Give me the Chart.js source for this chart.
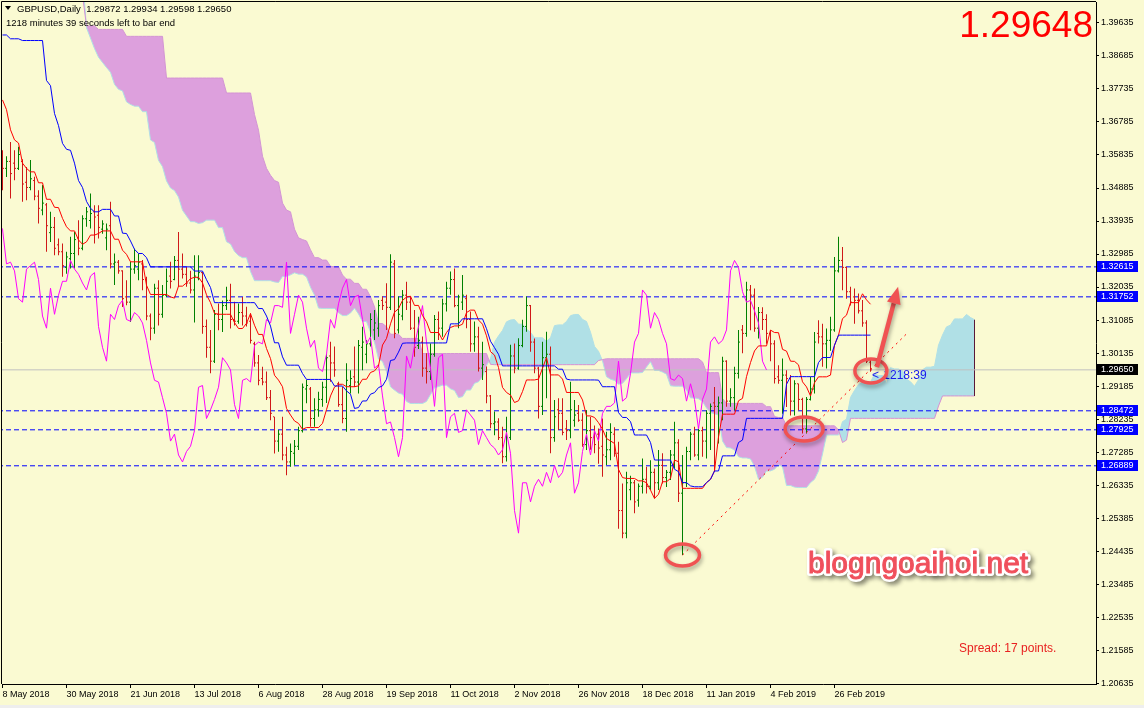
<!DOCTYPE html>
<html>
<head>
<meta charset="utf-8">
<script src="https://cdn.jsdelivr.net/npm/chart.js@4.4.1/dist/chart.umd.min.js"></script>
<style>
  html, body { margin: 0; padding: 0; background: #FAFAD2; }
  canvas { display: block; }
</style>
</head>
<body>
<canvas id="chart" width="1144" height="708"></canvas>
<script>
// GBPUSD daily bars, 8 May 2018 .. 11 Mar 2019 (index 0 = 8 May 2018)
const opens = [
  1.3565,1.3545,1.3565,1.3560,1.3545,1.3565,1.3505,1.3490,1.3510,1.3465,
  1.3425,1.3440,1.3360,1.3375,1.3325,1.3305,1.3260,1.3285,1.3300,1.3345,
  1.3315,1.3400,1.3395,1.3420,1.3410,1.3370,1.3345,1.3380,1.3270,1.3275,
  1.3250,1.3175,1.3160,1.3255,1.3255,1.3270,1.3225,1.3120,1.3085,1.3200,
  1.3125,1.3180,1.3235,1.3225,1.3280,1.3255,1.3240,1.3215,1.3195,1.3230,
  1.3245,1.3090,1.3030,1.2990,1.3125,1.3110,1.3150,1.3165,1.3110,1.3105,
  1.3130,1.3120,1.3105,1.3040,1.2985,1.2940,1.2930,1.2885,1.2830,1.2760,
  1.2780,1.2720,1.2700,1.2725,1.2745,1.2790,1.2910,1.2910,1.2825,1.2850,
  1.2880,1.2915,1.3005,1.2985,1.2925,1.2865,1.2825,1.2920,1.2945,1.2930,
  1.3030,1.3010,1.3040,1.3080,1.3085,1.3165,1.3160,1.3145,1.3270,1.3080,
  1.3120,1.3180,1.3160,1.3085,1.3035,1.3045,1.2970,1.2960,1.3010,1.3110,
  1.3085,1.3155,1.3200,1.3225,1.3150,1.3160,1.3170,1.3110,1.3040,1.3060,
  1.2970,1.2960,1.2890,1.2810,1.2815,1.2770,1.2715,1.2770,1.3005,1.2970,
  1.3035,1.3090,1.3150,1.3045,1.2970,1.2860,1.3000,1.3010,1.2770,1.2850,
  1.2840,1.2795,1.2790,1.2820,1.2840,1.2820,1.2750,1.2790,1.2770,1.2780,
  1.2745,1.2715,1.2735,1.2780,1.2725,1.2560,1.2495,1.2620,1.2640,1.2590,
  1.2630,1.2650,1.2630,1.2670,1.2640,1.2690,1.2655,1.2670,1.2720,1.2755,
  1.2610,1.2640,1.2730,1.2780,1.2720,1.2790,1.2760,1.2840,1.2870,1.2860,
  1.2870,1.2990,1.2875,1.2885,1.2955,1.3080,1.3070,1.3195,1.3180,1.3085,
  1.3130,1.3110,1.3070,1.3040,1.2945,1.2935,1.2950,1.2940,1.2875,1.2925,
  1.2880,1.2795,1.2880,1.2910,1.3070,1.3060,1.3040,1.3050,1.3080,1.3250,
  1.3280,1.3260,1.3190,1.3175,1.3165,1.3135,1.3100,1.29872
];
const highs = [
  1.3597,1.3580,1.3621,1.3597,1.3607,1.3571,1.3549,1.3569,1.3521,1.3482,
  1.3497,1.3445,1.3420,1.3405,1.3343,1.3329,1.3305,1.3348,1.3362,1.3396,
  1.3410,1.3434,1.3473,1.3439,1.3439,1.3396,1.3386,1.3449,1.3300,1.3281,
  1.3252,1.3223,1.3276,1.3314,1.3300,1.3281,1.3233,1.3127,1.3213,1.3223,
  1.3209,1.3257,1.3276,1.3293,1.3362,1.3300,1.3261,1.3250,1.3295,1.3295,
  1.3247,1.3110,1.3080,1.3137,1.3156,1.3165,1.3204,1.3213,1.3161,1.3156,
  1.3175,1.3147,1.3128,1.3046,1.3008,1.2974,1.2960,1.2907,1.2830,1.2792,
  1.2830,1.2744,1.2753,1.2763,1.2801,1.2926,1.2936,1.2916,1.2883,1.2902,
  1.2931,1.3010,1.3046,1.3032,1.2931,1.2916,1.2984,1.2964,1.3032,1.3051,
  1.3089,1.3051,1.3128,1.3137,1.3166,1.3176,1.3214,1.3298,1.3281,1.3176,
  1.3195,1.3219,1.3176,1.3137,1.3118,1.3061,1.3013,1.3041,1.3123,1.3133,
  1.3170,1.3219,1.3248,1.3257,1.3181,1.3238,1.3181,1.3133,1.3104,1.3089,
  1.3046,1.2975,1.2893,1.2845,1.2826,1.2801,1.2830,1.3037,1.3041,1.3056,
  1.3109,1.3176,1.3152,1.3055,1.2974,1.3046,1.3075,1.3032,1.2878,1.2883,
  1.2883,1.2821,1.2931,1.2878,1.2864,1.2840,1.2849,1.2830,1.2805,1.2796,
  1.2825,1.2787,1.2811,1.2800,1.2758,1.2638,1.2672,1.2660,1.2648,1.2638,
  1.2710,1.2686,1.2705,1.2681,1.2734,1.2725,1.2677,1.2734,1.2816,1.2765,
  1.2720,1.2744,1.2787,1.2801,1.2801,1.2801,1.2849,1.2868,1.2916,1.2888,
  1.3003,1.2993,1.2912,1.2974,1.3080,1.3094,1.3219,1.3209,1.3199,1.3146,
  1.3145,1.3125,1.3079,1.3050,1.2978,1.2998,1.2964,1.2950,1.2935,1.2926,
  1.2885,1.2887,1.2945,1.3074,1.3108,1.3098,1.3084,1.3118,1.3290,1.3348,
  1.3319,1.3262,1.3204,1.3199,1.3185,1.3166,1.3108,1.29934
];
const lows = [
  1.3482,1.3520,1.3458,1.3511,1.3540,1.3449,1.3453,1.3482,1.3453,1.3386,
  1.3410,1.3305,1.3333,1.3295,1.3295,1.3233,1.3242,1.3257,1.3257,1.3295,
  1.3309,1.3377,1.3372,1.3329,1.3343,1.3357,1.3309,1.3257,1.3209,1.3242,
  1.3146,1.3151,1.3103,1.3242,1.3223,1.3194,1.3108,1.3050,1.3069,1.3093,
  1.3115,1.3175,1.3199,1.3223,1.3204,1.3228,1.3204,1.3185,1.3101,1.3223,
  1.3069,1.3000,1.2955,1.2985,1.3079,1.3074,1.3137,1.3084,1.3093,1.3098,
  1.3093,1.3090,1.3041,1.2974,1.2921,1.2921,1.2878,1.2820,1.2724,1.2729,
  1.2705,1.2662,1.2686,1.2691,1.2734,1.2785,1.2869,1.2801,1.2801,1.2830,
  1.2859,1.2870,1.2931,1.2945,1.2859,1.2811,1.2787,1.2897,1.2916,1.2897,
  1.2964,1.2984,1.3032,1.3051,1.3060,1.3137,1.3080,1.3137,1.3056,1.3070,
  1.3108,1.3137,1.3080,1.3003,1.3025,1.2945,1.2926,1.2936,1.3003,1.3051,
  1.3060,1.3133,1.3181,1.3145,1.3085,1.3137,1.3085,1.3017,1.3017,1.2960,
  1.2936,1.2869,1.2797,1.2777,1.2763,1.2696,1.2701,1.2763,1.2955,1.2965,
  1.3030,1.3075,1.3017,1.2955,1.2825,1.2835,1.2883,1.2725,1.2758,1.2792,
  1.2777,1.2763,1.2768,1.2801,1.2816,1.2744,1.2734,1.2735,1.2725,1.2695,
  1.2657,1.2691,1.2705,1.2715,1.2508,1.2480,1.2480,1.2590,1.2552,1.2571,
  1.2609,1.2609,1.2619,1.2595,1.2619,1.2638,1.2628,1.2648,1.2681,1.2585,
  1.2432,1.2628,1.2705,1.2715,1.2705,1.2715,1.2710,1.2734,1.2672,1.2753,
  1.2820,1.2859,1.2859,1.2849,1.2940,1.3013,1.3060,1.3079,1.3075,1.3055,
  1.3080,1.3040,1.2990,1.2926,1.2925,1.2839,1.2858,1.2834,1.2834,1.2849,
  1.2782,1.2782,1.2877,1.2897,1.3041,1.2974,1.2969,1.3020,1.3075,1.3245,
  1.3194,1.3170,1.3150,1.3098,1.3127,1.3089,1.2985,1.29598
];
const closes = [
  1.3545,1.3565,1.3530,1.3545,1.3585,1.3500,1.3490,1.3515,1.3465,1.3430,
  1.3445,1.3380,1.3375,1.3315,1.3305,1.3265,1.3290,1.3300,1.3340,1.3315,
  1.3400,1.3420,1.3415,1.3405,1.3375,1.3385,1.3370,1.3270,1.3275,1.3250,
  1.3170,1.3160,1.3255,1.3265,1.3275,1.3225,1.3120,1.3085,1.3200,1.3125,
  1.3180,1.3220,1.3220,1.3280,1.3255,1.3240,1.3215,1.3195,1.3235,1.3245,
  1.3090,1.3030,1.2990,1.3125,1.3110,1.3150,1.3165,1.3110,1.3105,1.3130,
  1.3120,1.3100,1.3050,1.2985,1.2935,1.2930,1.2885,1.2840,1.2760,1.2780,
  1.2720,1.2700,1.2730,1.2745,1.2790,1.2915,1.2920,1.2825,1.2850,1.2880,
  1.2915,1.3000,1.2985,1.2965,1.2865,1.2825,1.2935,1.2940,1.2930,1.3035,
  1.3045,1.3040,1.3110,1.3100,1.3150,1.3150,1.3145,1.3275,1.3070,1.3125,
  1.3180,1.3160,1.3085,1.3030,1.3050,1.2970,1.2960,1.3010,1.3110,1.3085,
  1.3155,1.3200,1.3225,1.3150,1.3175,1.3180,1.3110,1.3040,1.3060,1.2970,
  1.2980,1.2890,1.2810,1.2815,1.2770,1.2715,1.2770,1.3005,1.2970,1.3035,
  1.3090,1.3150,1.3045,1.2970,1.2860,1.3000,1.3010,1.2770,1.2830,1.2840,
  1.2785,1.2790,1.2850,1.2835,1.2820,1.2750,1.2790,1.2770,1.2750,1.2740,
  1.2720,1.2735,1.2785,1.2725,1.2560,1.2495,1.2640,1.2640,1.2585,1.2630,
  1.2650,1.2630,1.2670,1.2640,1.2690,1.2655,1.2670,1.2720,1.2755,1.2610,
  1.2640,1.2730,1.2780,1.2720,1.2790,1.2760,1.2840,1.2860,1.2860,1.2870,
  1.2990,1.2875,1.2885,1.2955,1.3045,1.3070,1.3195,1.3180,1.3085,1.3130,
  1.3110,1.3070,1.3040,1.2940,1.2935,1.2950,1.2940,1.2875,1.2925,1.2880,
  1.2795,1.2880,1.2910,1.3045,1.3060,1.3040,1.3050,1.3080,1.3250,1.3280,
  1.3260,1.3190,1.3160,1.3165,1.3135,1.3100,1.2990,1.29650
];

// Ichimoku values at the left edge (their history lies before 8 May)
const tenkanHead = [1.3742,1.3714,1.3656,1.3627,1.3618,1.3560,1.3545,1.3535];
const kijunHead = [
  1.3929,1.3929,1.3918,1.3918,1.3918,1.3913,1.3913,1.3913,1.3913,1.3913,
  1.3913,1.3798,1.3783,1.3703,1.3668,1.3617,1.3600,1.3597,1.3560,1.3510,
  1.3490,1.3450,1.3430,1.3420,1.3420
];
const spanAHead = [
  1.4100,1.4100,1.4100,1.4100,1.4100,1.4100,1.4100,1.4100,1.4100,1.4100,
  1.4100,1.4100,1.4100,1.4100,1.4100,1.4100,1.4100,1.4100,1.4100,1.4100,
  1.4100,1.3950,1.3920,1.3890,1.3865,1.3850
];
const spanBHead = [
  1.4028,1.4028,1.4028,1.4028,1.4028,1.4028,1.4028,1.4028,1.4028,1.4028,
  1.4028,1.4044,1.4044,1.4044,1.4044,1.4044,1.4044,1.4044,1.4044,1.4044,
  1.4044,1.3955,1.3955,1.3955,1.3945,1.3945,1.3945,1.3945,1.3945,1.3945,
  1.3945,1.3925,1.3925,1.3925,1.3925,1.3925,1.3925,1.3925,1.3925,1.3925,
  1.3925,1.3805,1.3805,1.3805,1.3805,1.3805,1.3805,1.3805,1.3805,1.3805,
  1.3805,1.3805,1.3805,1.3805,1.3805,1.3805,1.3762,1.3762,1.3762,1.3762,
  1.3762,1.3762,1.3762,1.3700,1.3655,1.3580,1.3545,1.3525,1.3510,1.3505,
  1.3445,1.3425,1.3420,1.3370,1.3345,1.3340,1.3336
];

const dateTicks = [0,16,32,48,64,80,96,112,128,144,160,176,192,208];
const dateLabels = [
  '8 May 2018','30 May 2018','21 Jun 2018','13 Jul 2018','6 Aug 2018','28 Aug 2018',
  '19 Sep 2018','11 Oct 2018','2 Nov 2018','26 Nov 2018','18 Dec 2018','11 Jan 2019',
  '4 Feb 2019','26 Feb 2019'
];
const priceTicks = [
  1.20635,1.21585,1.22535,1.23485,1.24435,1.25385,1.26335,1.27285,1.28235,1.29185,
  1.30135,1.31085,1.32035,1.32985,1.33935,1.34885,1.35835,1.36785,1.37735,1.38685,1.39635
];
const levels = [1.32615, 1.31752, 1.28472, 1.27925, 1.26889];
const bidPrice = 1.29650;
const askPrice = '1.29648';
const trendLine = [{x: 170, y: 1.2432}, {x: 226.3, y: 1.3072}];

const xMin = -0.125, xMax = 273.375;
const yMin = 1.20608, yMax = 1.40239;
const plotBox = {left: 2, top: 2, right: 1096, bottom: 684};

// annotation marks in chart coordinates
const circleMarks = [
  {i: 170.0, p: 1.2432, rx: 17, ry: 11},
  {i: 200.4, p: 1.2795, rx: 19, ry: 12},
  {i: 217.1, p: 1.2962, rx: 16, ry: 12}
];
const arrowMark = {from: {i: 218.6, p: 1.2973}, to: {i: 223.9, p: 1.3204}};

// Ichimoku lines from the bars
function midRange(from, to) {
  let hi = -Infinity, lo = Infinity;
  for (let k = from; k <= to; k++) { hi = Math.max(hi, highs[k]); lo = Math.min(lo, lows[k]); }
  return (hi + lo) / 2;
}
const n = closes.length;
const tenkan = closes.map((c, i) => i < tenkanHead.length ? tenkanHead[i] : midRange(i - 8, i));
const kijun = closes.map((c, i) => i < kijunHead.length ? kijunHead[i] : midRange(i - 25, i));
const spanA = [], spanB = [];
for (let j = 0; j < n + 26; j++) {
  spanA.push(j < spanAHead.length ? spanAHead[j] : (tenkan[j - 26] + kijun[j - 26]) / 2);
  spanB.push(j < spanBHead.length ? spanBHead[j] : midRange(j - 77, j - 26));
}

const barColors = closes.map((c, i) => c >= opens[i] ? '#008000' : '#D01818');
const pts = (arr, shift) => arr.map((v, i) => ({x: i + shift, y: v}));
const hline = (v) => [{x: xMin - 1, y: v}, {x: xMax + 1, y: v}];

const overlay = {
  id: 'overlay',
  afterLayout(chart) {
    // pin the plot area to the terminal's frame
    const a = chart.chartArea, {x, y} = chart.scales;
    Object.assign(a, plotBox, {width: plotBox.right - plotBox.left, height: plotBox.bottom - plotBox.top});
    Object.assign(x, {left: a.left, right: a.right, width: a.width, top: a.bottom, bottom: a.bottom + 24});
    Object.assign(y, {top: a.top, bottom: a.bottom, height: a.height, left: a.right, right: chart.width});
    x.configure();
    y.configure();
  },
  beforeDraw(chart) {
    const {ctx, width, height} = chart;
    ctx.save();
    ctx.fillStyle = '#FAFAD2';
    ctx.fillRect(0, 0, width, height);
    ctx.fillStyle = '#EEEEEE';
    ctx.fillRect(0, height - 3, width, 3);
    ctx.restore();
  },
  afterDraw(chart) {
    const {ctx, chartArea: a, scales: {x, y}} = chart;
    const px = v => x.getPixelForValue(v), py = v => y.getPixelForValue(v);
    ctx.save();

    // frame
    ctx.strokeStyle = '#000';
    ctx.lineWidth = 1;
    ctx.beginPath();
    ctx.moveTo(a.left - 0.5, a.bottom);
    ctx.lineTo(a.left - 0.5, a.top - 0.5);
    ctx.lineTo(a.right, a.top - 0.5);
    ctx.stroke();

    // price boxes on the axis
    ctx.font = '9px "Liberation Sans"';
    ctx.textBaseline = 'middle';
    ctx.textAlign = 'left';
    const box = (v, bg) => {
      const yy = Math.round(py(v));
      ctx.fillStyle = bg;
      ctx.fillRect(a.right + 1, yy - 6, 41, 11);
      ctx.fillStyle = '#FFFFFF';
      ctx.fillText(v.toFixed(5), a.right + 5, yy);
    };
    levels.forEach(v => box(v, '#0000FF'));
    box(bidPrice, '#000000');

    // header
    const L = n - 1;
    ctx.fillStyle = '#000';
    ctx.beginPath();
    ctx.moveTo(5, 6); ctx.lineTo(11, 6); ctx.lineTo(8, 10); ctx.closePath();
    ctx.fill();
    ctx.font = '9.5px "Liberation Sans"';
    ctx.textBaseline = 'alphabetic';
    ctx.fillText('GBPUSD,Daily  ' + [opens[L], highs[L], lows[L], closes[L]].map(v => v.toFixed(5)).join(' '), 17, 12);
    ctx.fillText('1218 minutes 39 seconds left to bar end', 6, 26);

    // big quote
    ctx.font = '37px "Liberation Sans"';
    ctx.fillStyle = '#FF0000';
    ctx.textAlign = 'right';
    ctx.fillText(askPrice, 1093, 37);

    // spread
    ctx.font = '12px "Liberation Sans"';
    ctx.textAlign = 'left';
    ctx.fillStyle = '#E82020';
    ctx.fillText('Spread: 17 points.', 959, 652);

    // countdown next to the last bar
    ctx.fillStyle = '#1818F0';
    ctx.font = '12px "Liberation Sans"';
    ctx.fillText('<', px(217.4), py(1.2950) + 4);
    ctx.fillText('1218:39', px(220.2), py(1.2950) + 4);

    // red circles and arrow
    ctx.shadowColor = 'rgba(0,0,0,0.35)';
    ctx.shadowBlur = 4;
    ctx.shadowOffsetX = 1;
    ctx.shadowOffsetY = 3;
    ctx.strokeStyle = '#F05252';
    ctx.lineWidth = 3.5;
    circleMarks.forEach(c => {
      ctx.beginPath();
      ctx.ellipse(px(c.i), py(c.p), c.rx, c.ry, 0, 0, Math.PI * 2);
      ctx.stroke();
    });
    const x0 = px(arrowMark.from.i), y0 = py(arrowMark.from.p);
    const x1 = px(arrowMark.to.i), y1 = py(arrowMark.to.p);
    const ang = Math.atan2(y1 - y0, x1 - x0);
    const head = 17, hw = 7;
    const bx = x1 - Math.cos(ang) * head, by = y1 - Math.sin(ang) * head;
    ctx.lineWidth = 4.5;
    ctx.beginPath();
    ctx.moveTo(x0, y0);
    ctx.lineTo(bx, by);
    ctx.stroke();
    ctx.fillStyle = '#F05252';
    ctx.beginPath();
    ctx.moveTo(x1, y1);
    ctx.lineTo(bx + Math.sin(ang) * hw, by - Math.cos(ang) * hw);
    ctx.lineTo(bx - Math.sin(ang) * hw, by + Math.cos(ang) * hw);
    ctx.closePath();
    ctx.fill();

    // watermark
    ctx.font = '30px "Liberation Sans"';
    ctx.lineJoin = 'round';
    ctx.shadowColor = 'rgba(0,0,0,0.45)';
    ctx.shadowBlur = 4;
    ctx.shadowOffsetX = 3;
    ctx.shadowOffsetY = 3;
    ctx.strokeStyle = '#FFFFFF';
    ctx.lineWidth = 6;
    ctx.strokeText('blogngoaihoi.net', 808, 573);
    ctx.shadowColor = 'rgba(0,0,0,0)';
    ctx.fillStyle = '#F0505C';
    ctx.strokeStyle = '#F0505C';
    ctx.lineWidth = 1;
    ctx.fillText('blogngoaihoi.net', 808, 573);
    ctx.strokeText('blogngoaihoi.net', 808, 573);
    ctx.restore();
  }
};

Chart.defaults.font.family = '"Liberation Sans", Arial, sans-serif';

const ctx = document.getElementById('chart');
const chart = new Chart(ctx, {
  type: 'line',
  data: {
    datasets: [
      {
        label: 'Senkou Span A', data: pts(spanA, 0), order: 20,
        borderColor: '#B0E0E6', borderWidth: 1, pointRadius: 0,
        fill: {target: '+1', above: '#B0E0E6', below: '#DDA0DD'}
      },
      {
        label: 'Senkou Span B', data: pts(spanB, 0), order: 19,
        borderColor: '#D493D4', borderWidth: 1, pointRadius: 0, fill: false
      },
      {
        type: 'bar', label: 'Kumo end', order: 18,
        data: [{x: spanA.length - 1, y: [spanB[spanB.length - 1], spanA[spanA.length - 1]]}],
        backgroundColor: '#5A1838', barThickness: 1, grouped: false, inflateAmount: 0
      },
      ...levels.map(v => ({
        label: 'level ' + v, data: hline(v), order: 15,
        borderColor: '#0000FF', borderWidth: 1, borderDash: [5, 3], pointRadius: 0, fill: false
      })),
      {
        label: 'Bid', data: hline(bidPrice), order: 16,
        borderColor: '#C0C0C0', borderWidth: 1, pointRadius: 0, fill: false
      },
      {
        type: 'bar', label: 'High-Low', order: 6,
        data: highs.map((h, i) => ({x: i, y: [lows[i], h]})),
        backgroundColor: barColors, barThickness: 1, grouped: false, inflateAmount: 0
      },
      {
        label: 'Open', data: pts(opens, -0.25), order: 5, showLine: false,
        pointStyle: 'line', pointRadius: 0.5, pointBorderWidth: 1,
        pointBorderColor: barColors, pointBackgroundColor: barColors
      },
      {
        label: 'Close', data: pts(closes, 0.25), order: 5, showLine: false,
        pointStyle: 'line', pointRadius: 0.5, pointBorderWidth: 1,
        pointBorderColor: barColors, pointBackgroundColor: barColors
      },
      {
        label: 'Chikou Span', data: pts(closes, -26), order: 3,
        borderColor: '#FF00FF', borderWidth: 1, pointRadius: 0, fill: false
      },
      {
        label: 'Kijun-sen', data: pts(kijun, 0), order: 2,
        borderColor: '#0000FF', borderWidth: 1, pointRadius: 0, fill: false
      },
      {
        label: 'Tenkan-sen', data: pts(tenkan, 0), order: 2,
        borderColor: '#FF0000', borderWidth: 1, pointRadius: 0, fill: false
      },
      {
        label: 'Trend', data: trendLine, order: 1,
        borderColor: '#FF0000', borderWidth: 1, borderDash: [2, 4], pointRadius: 0, fill: false
      }
    ]
  },
  options: {
    responsive: false,
    animation: false,
    devicePixelRatio: 1,
    events: [],
    layout: {padding: {left: 2, top: 2, right: 0, bottom: 0}},
    elements: {line: {tension: 0}, point: {radius: 0}},
    plugins: {legend: {display: false}, tooltip: {enabled: false}, title: {display: false}},
    scales: {
      x: {
        type: 'linear', position: 'bottom', min: xMin, max: xMax, offset: false,
        afterBuildTicks: s => { s.ticks = dateTicks.map(v => ({value: v})); },
        afterFit: s => { s.height = 24; s.paddingLeft = 0; s.paddingRight = 0; },
        ticks: {
          callback: v => dateLabels[dateTicks.indexOf(v)] || '',
          align: 'start', maxRotation: 0, autoSkip: false, padding: 1,
          color: '#000', font: {size: 9}
        },
        grid: {offset: false, drawOnChartArea: false, drawTicks: true, tickLength: 4, color: '#000'},
        border: {display: true, color: '#000', width: 1}
      },
      y: {
        type: 'linear', position: 'right', min: yMin, max: yMax, beginAtZero: false,
        afterBuildTicks: s => { s.ticks = priceTicks.map(v => ({value: v})); },
        afterFit: s => { s.width = 48; s.paddingTop = 0; s.paddingBottom = 0; },
        ticks: {
          callback: v => Number(v).toFixed(5),
          autoSkip: false, padding: 2, color: '#000', font: {size: 9}
        },
        grid: {drawOnChartArea: false, drawTicks: true, tickLength: 3, color: '#000'},
        border: {display: true, color: '#000', width: 1}
      }
    }
  },
  plugins: [overlay]
});
</script>
</body>
</html>
